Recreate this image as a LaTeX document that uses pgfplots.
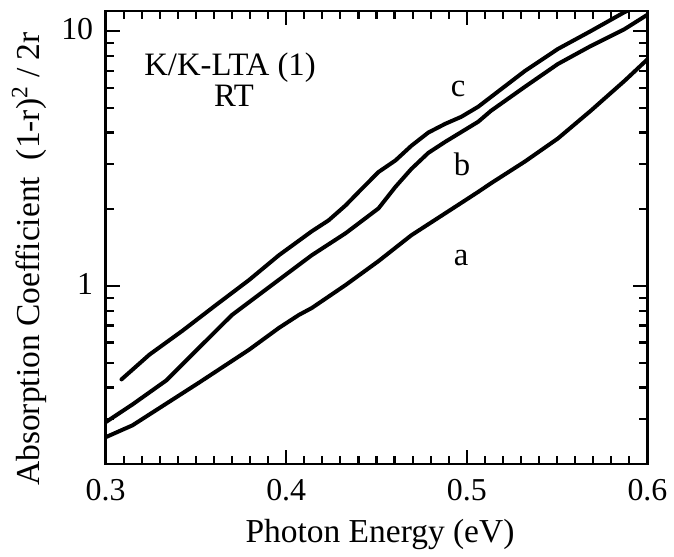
\documentclass[border=0pt]{standalone}
\usepackage{pgfplots}
\pgfplotsset{compat=1.18}
\usepackage{fontspec}
\setmainfont{Liberation Serif}
\begin{document}
\begin{tikzpicture}
\begin{axis}[
  scale only axis, width=272pt, height=227.5pt,
  xmin=0.3, xmax=0.6, ymode=log, ymin=0.2, ymax=12,
  xtick={0.3,0.4,0.5,0.6}, xticklabels={0.3,0.4,0.5,0.6},
  minor x tick num=9,
  ytick={1,10}, yticklabels={1,10},
  minor ytick={0.2,0.3,0.4,0.5,0.6,0.7,0.8,0.9,2,3,4,5,6,7,8,9},
  tick align=inside, major tick length=7pt, minor tick length=4pt,
  axis line style={line width=1.3pt},
  every tick/.style={line width=1.1pt, black},
  /pgf/number format/assume math mode=true,
  tick label style={font=\fontsize{16}{18}\selectfont},
  xticklabel style={anchor=base, yshift=-18pt},
  yticklabel style={xshift=-2.7pt, yshift=1pt},
  label style={font=\fontsize{16.8}{19}\selectfont},
  xlabel={Photon Energy (eV)},
  ylabel={Absorption Coefficient\ \ (1-r)\textsuperscript{2} / 2r},
  xlabel style={at={(axis description cs:0.5064,-0.1736)}, anchor=base},
  ylabel style={at={(axis description cs:-0.1213,0.4527)}, anchor=base},
  clip=true,
]
\addplot[black, line width=2pt, line join=round, line cap=round] coordinates {
(0.300,0.255) (0.3149,0.284) (0.3518,0.418) (0.3794,0.562) (0.3960,0.685)
(0.4070,0.770) (0.4142,0.820) (0.4329,1.009) (0.4511,1.252) (0.4693,1.582)
(0.4881,1.93) (0.4952,2.08) (0.5063,2.34) (0.5134,2.53) (0.5322,3.08)
(0.5504,3.79) (0.5686,4.87) (0.5873,6.38) (0.600,7.75)
};
\addplot[black, line width=2pt, line join=round, line cap=round] coordinates {
(0.300,0.292) (0.3149,0.343) (0.3336,0.426) (0.3518,0.573) (0.3700,0.770)
(0.3888,0.969) (0.3960,1.058) (0.4070,1.21) (0.4142,1.321) (0.4329,1.611)
(0.4511,2.016) (0.4605,2.45) (0.4693,2.88) (0.4787,3.33) (0.4881,3.68) (0.4952,3.95)
(0.5063,4.41) (0.5134,4.87) (0.5322,6.05) (0.5504,7.43) (0.5686,8.74)
(0.5873,10.18) (0.600,11.6)
};
\addplot[black, line width=2pt, line join=round, line cap=round] coordinates {
(0.3088,0.430) (0.3243,0.538) (0.3425,0.667) (0.3612,0.843) (0.3794,1.055)
(0.3960,1.321) (0.4142,1.640) (0.4235,1.810) (0.4329,2.072) (0.4417,2.40)
(0.4511,2.80) (0.4605,3.11) (0.4693,3.55) (0.4787,4.00) (0.4881,4.33)
(0.4969,4.61) (0.5063,5.05) (0.5134,5.52) (0.5322,6.98) (0.5504,8.51)
(0.5686,10.0) (0.5873,11.87) (0.5906,12.19)
};
\node[anchor=base, font=\fontsize{16.4}{18}\selectfont] at (axis cs:0.3689,6.67) {K/K-LTA (1)};
\node[anchor=base, font=\fontsize{16.4}{18}\selectfont] at (axis cs:0.3711,5.05) {RT};
\node[anchor=base, font=\fontsize{16.4}{18}\selectfont] at (axis cs:0.4952,5.52) {c};
\node[anchor=base, font=\fontsize{16.4}{18}\selectfont] at (axis cs:0.4974,2.71) {b};
\node[anchor=base, font=\fontsize{16.4}{18}\selectfont] at (axis cs:0.4969,1.208) {a};
\end{axis}
\path ([xshift=-53pt,yshift=-46.5pt]current axis.south west) rectangle ([xshift=12pt,yshift=5.5pt]current axis.north east);
\end{tikzpicture}
\end{document}
